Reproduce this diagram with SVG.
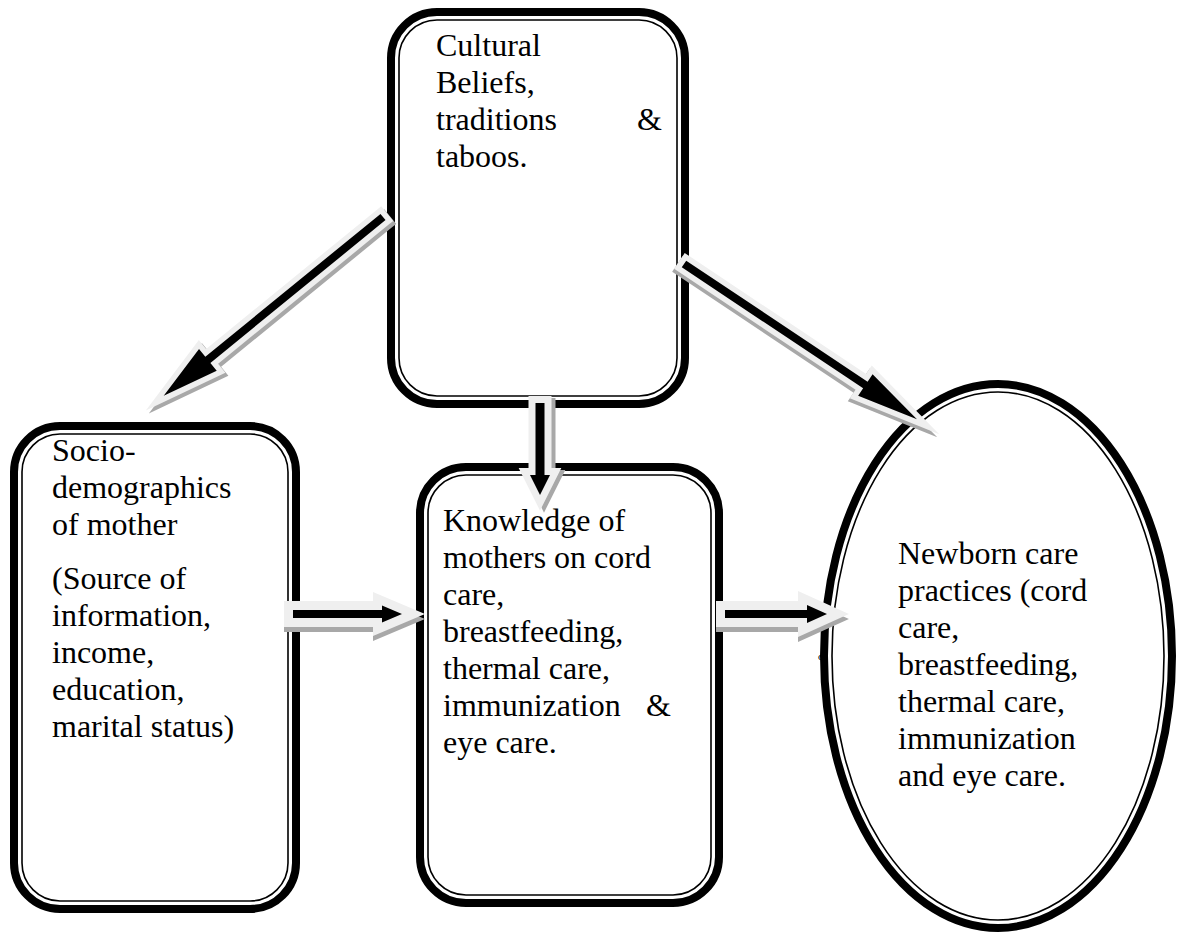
<svg xmlns="http://www.w3.org/2000/svg" width="1191" height="936" viewBox="0 0 1191 936">
<style>
.thick{fill:none;stroke:#000;stroke-width:8}
.thin{fill:none;stroke:#000;stroke-width:1.6}
.t{font-family:"Liberation Serif","Times New Roman",serif;font-size:32px;fill:#000}
.sh{fill:#a8a8a8;stroke:#a8a8a8;stroke-linejoin:miter;stroke-miterlimit:10}
.lt{fill:#efefef;stroke:#efefef;stroke-linejoin:miter;stroke-miterlimit:10}
.bk{fill:#000}
</style>
<rect width="1191" height="936" fill="#fff"/>
<g id="node-cultural">
<rect class="thick" x="391" y="12" width="294" height="392" rx="46"/>
<rect class="thin" x="399" y="20" width="278" height="376" rx="38"/>
<text class="t" x="436" y="56">Cultural</text>
<text class="t" x="436" y="93">Beliefs,</text>
<text class="t" y="130"><tspan x="436">traditions</tspan><tspan x="637">&amp;</tspan></text>
<text class="t" x="436" y="167">taboos.</text>
</g>
<g id="node-socio">
<rect class="thick" x="14" y="426" width="282" height="483" rx="46"/>
<rect class="thin" x="22" y="434" width="266" height="467" rx="38"/>
<text class="t" x="52" y="461">Socio-</text>
<text class="t" x="52" y="498">demographics</text>
<text class="t" x="52" y="535">of mother</text>
<text class="t" x="52" y="589">(Source of</text>
<text class="t" x="52" y="626">information,</text>
<text class="t" x="52" y="663">income,</text>
<text class="t" x="52" y="700">education,</text>
<text class="t" x="52" y="737">marital status)</text>
</g>
<g id="node-knowledge">
<rect class="thick" x="420" y="467" width="299" height="436" rx="46"/>
<rect class="thin" x="428" y="475" width="283" height="420" rx="38"/>
<text class="t" x="443" y="531">Knowledge of</text>
<text class="t" x="443" y="568">mothers on cord</text>
<text class="t" x="443" y="605">care,</text>
<text class="t" x="443" y="642">breastfeeding,</text>
<text class="t" x="443" y="679">thermal care,</text>
<text class="t" y="716"><tspan x="443">immunization</tspan><tspan x="646">&amp;</tspan></text>
<text class="t" x="443" y="753">eye care.</text>
</g>
<g id="node-newborn">
<ellipse class="thick" cx="998" cy="656" rx="174" ry="272"/>
<ellipse class="thin" cx="998" cy="656" rx="166" ry="264"/>
<text class="t" x="898" y="564">Newborn care</text>
<text class="t" x="898" y="601">practices (cord</text>
<text class="t" x="898" y="638">care,</text>
<text class="t" x="898" y="675">breastfeeding,</text>
<text class="t" x="898" y="712">thermal care,</text>
<text class="t" x="898" y="749">immunization</text>
<text class="t" x="898" y="786">and eye care.</text>
<text x="818" y="660" style="font-family:'Liberation Serif',serif;font-size:11px">o</text>
</g>
<g id="connectors">
<g transform="translate(386,220) rotate(140.8)"><polygon class="sh" stroke-width="11" points="0,-4 226,-4 226,-14 283,0 226,14 226,4 0,4"/></g>
<g transform="translate(383,217) rotate(140.8)"><polygon class="lt" stroke-width="11" points="0,-4 226,-4 226,-14 283,0 226,14 226,4 0,4"/><polygon class="bk" points="0,-4 226,-4 226,-14 283,0 226,14 226,4 0,4"/></g>
<g transform="translate(682,267) rotate(33.7)"><polygon class="sh" stroke-width="11" points="0,-4 218,-4 218,-13 280,0 218,13 218,4 0,4"/></g>
<g transform="translate(684,264) rotate(33.7)"><polygon class="lt" stroke-width="11" points="0,-4 218,-4 218,-13 280,0 218,13 218,4 0,4"/><polygon class="bk" points="0,-4 218,-4 218,-13 280,0 218,13 218,4 0,4"/></g>
<g transform="translate(544,405) rotate(90)"><polygon class="sh" stroke-width="14" points="0,-4.5 72,-4.5 72,-10 92,0 72,10 72,4.5 0,4.5"/></g>
<g transform="translate(540,403) rotate(90)"><polygon class="lt" stroke-width="14" points="0,-4.5 72,-4.5 72,-10 92,0 72,10 72,4.5 0,4.5"/><polygon class="bk" points="0,-4.5 72,-4.5 72,-10 92,0 72,10 72,4.5 0,4.5"/></g>
<g transform="translate(293,619)"><polygon class="sh" stroke-width="18" points="0,-4 89,-4 89,-8.5 109,0 89,8.5 89,4 0,4"/></g>
<g transform="translate(293,614)"><polygon class="lt" stroke-width="18" points="0,-4 89,-4 89,-8.5 109,0 89,8.5 89,4 0,4"/><polygon class="bk" points="0,-4 89,-4 89,-8.5 109,0 89,8.5 89,4 0,4"/></g>
<g transform="translate(725,619)"><polygon class="sh" stroke-width="18" points="0,-4 82,-4 82,-9 102,0 82,9 82,4 0,4"/></g>
<g transform="translate(725,614)"><polygon class="lt" stroke-width="18" points="0,-4 82,-4 82,-9 102,0 82,9 82,4 0,4"/><polygon class="bk" points="0,-4 82,-4 82,-9 102,0 82,9 82,4 0,4"/></g>
</g>
</svg>
